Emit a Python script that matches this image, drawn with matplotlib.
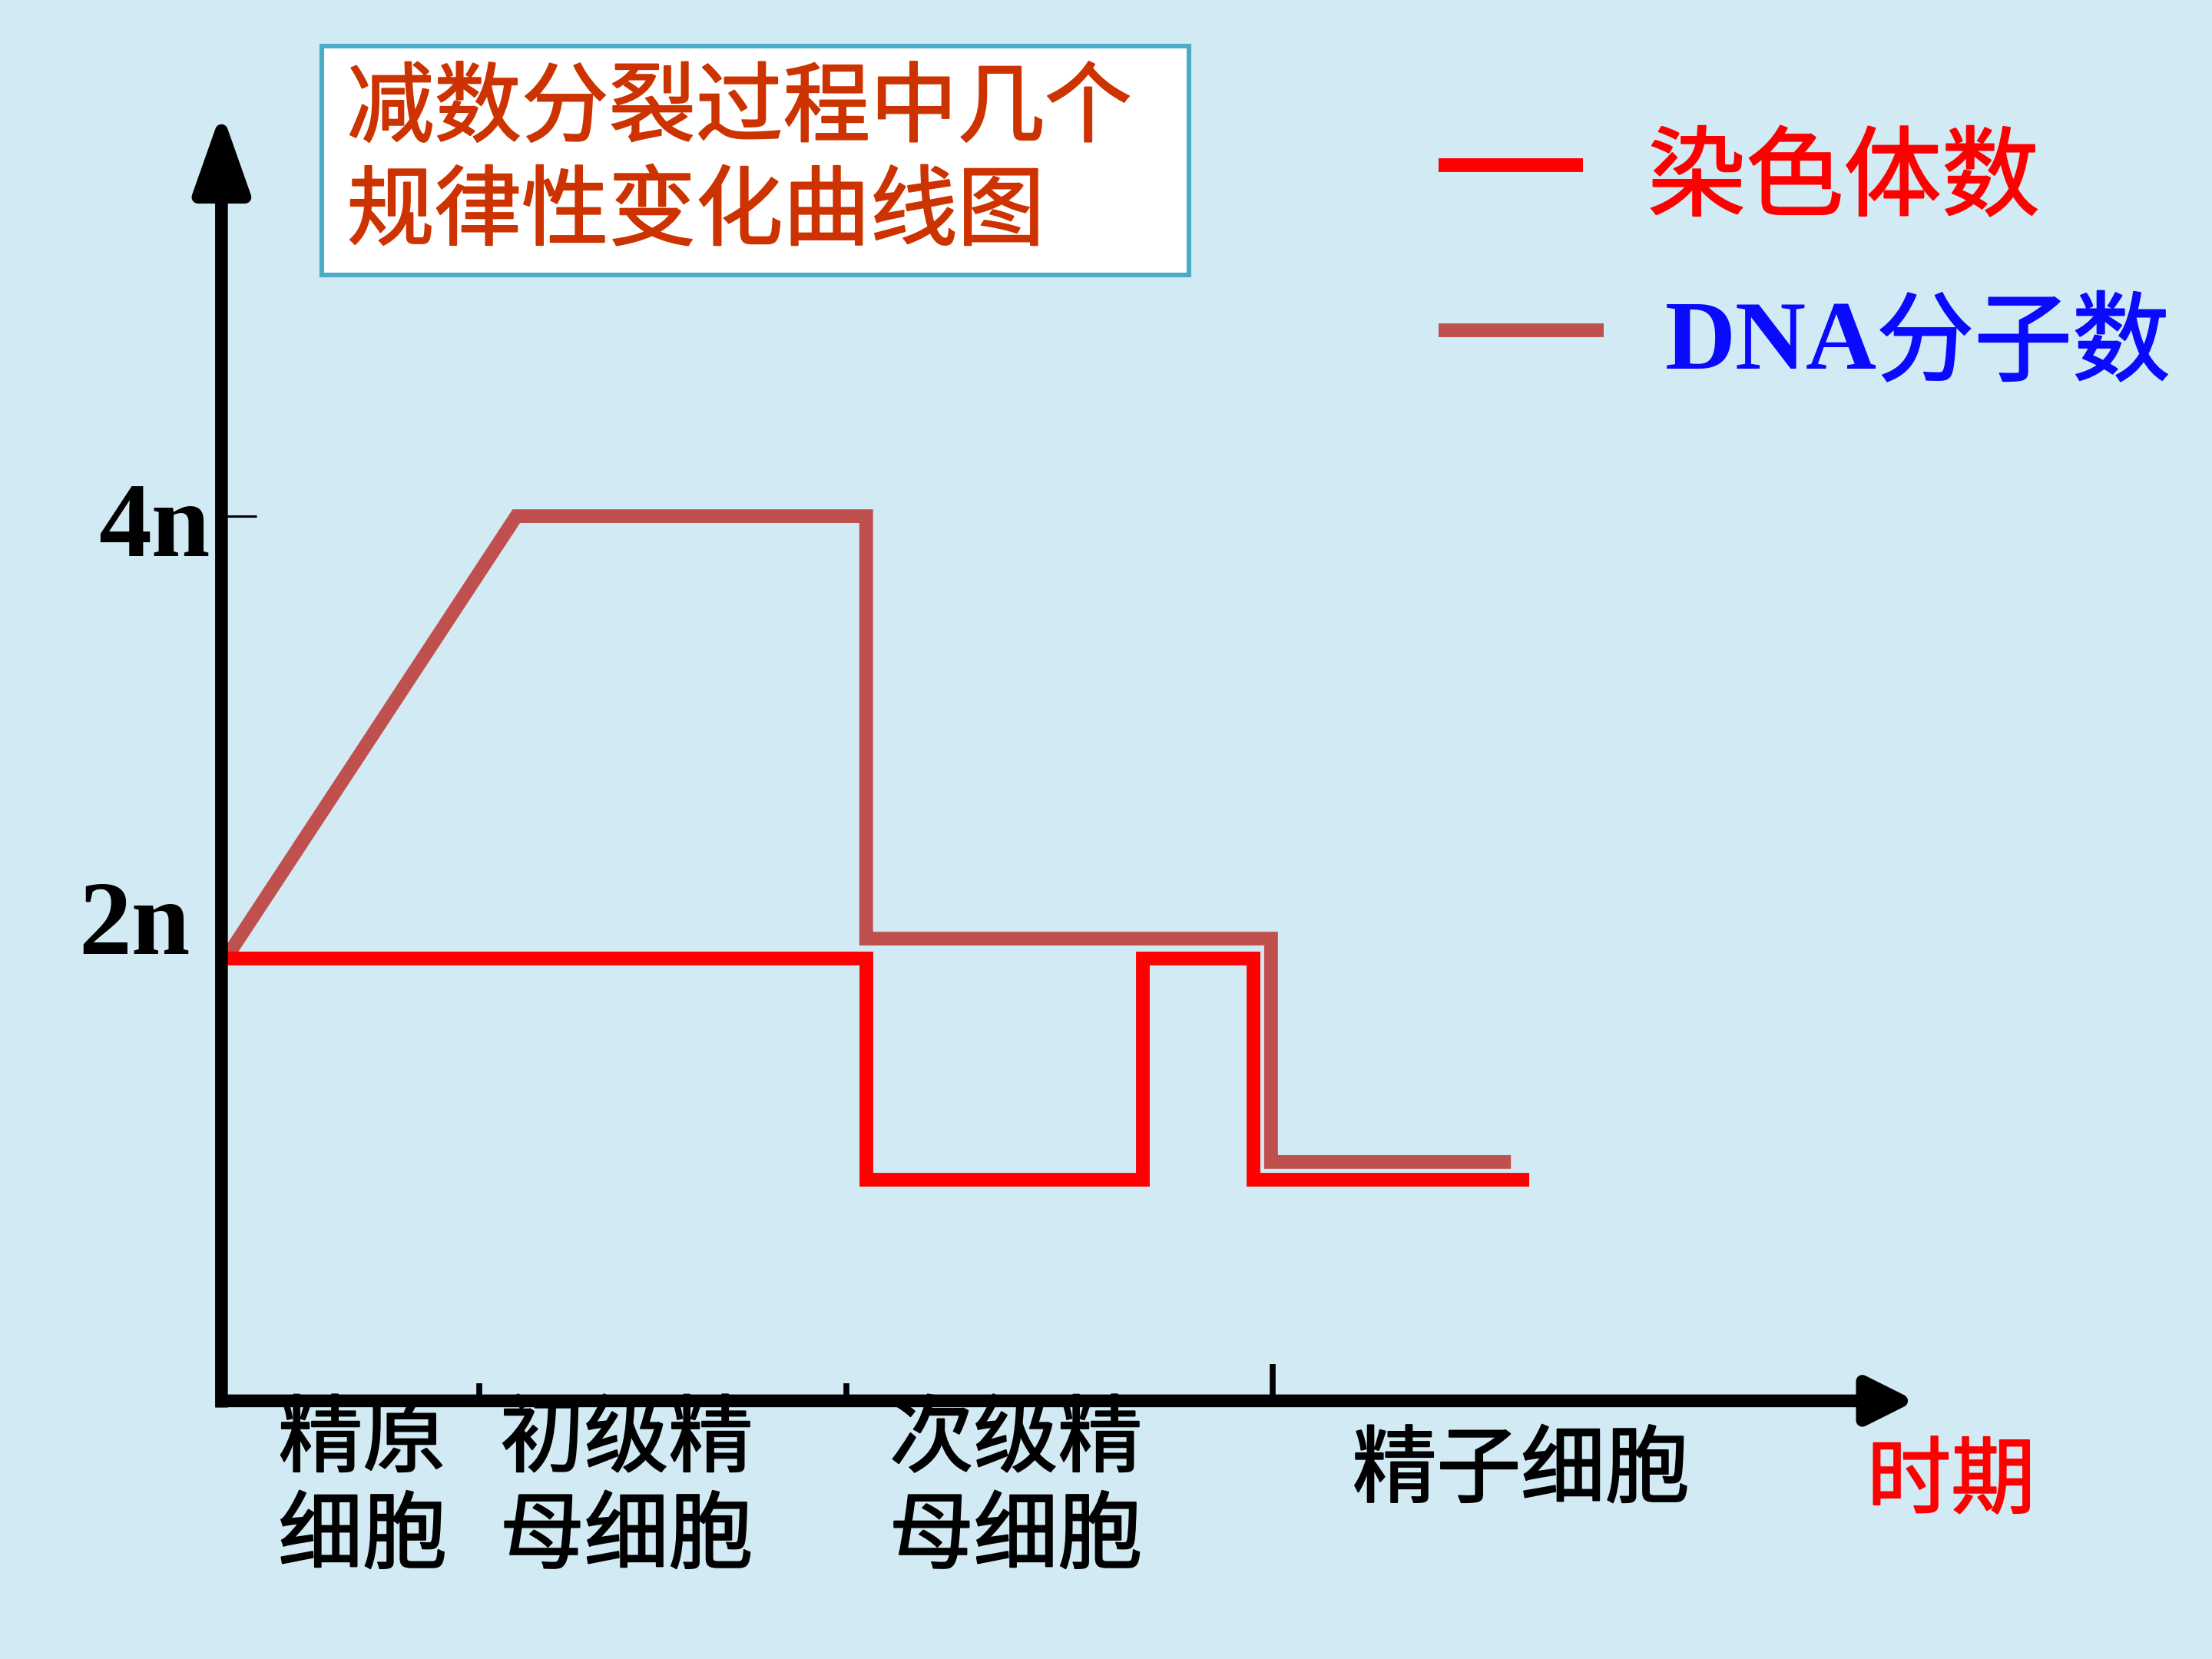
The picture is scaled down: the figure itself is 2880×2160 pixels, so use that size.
import matplotlib

matplotlib.use("Agg")

import matplotlib.patheffects as pe
import matplotlib.pyplot as plt
from matplotlib.lines import Line2D
from matplotlib.patches import Rectangle

plt.rcParams["font.family"] = ["Noto Sans CJK SC", "DejaVu Sans"]

# chromosome number (red) and DNA content (brown), in units of n
chrom_x = [0.0, 4.57, 4.57, 6.53, 6.53, 7.315, 7.315, 9.27]
chrom_n = [2.0, 2.0, 1.0, 1.0, 2.0, 2.0, 1.0, 1.0]
dna_x = [0.03, 2.09, 4.57, 4.57, 7.44, 7.44, 9.14]
dna_n = [2.0, 4.0, 4.0, 2.09, 2.09, 1.08, 1.08]

stage_ticks = [1.83, 4.43]
stage_tick_long = [7.45]
stage_labels = ["精原\n细胞", "初级精\n母细胞", "次级精\n母细胞", "精子细胞"]
stage_label_x = [1.0, 2.87, 5.63, 9.21]
stage_label_y = [-0.40, -0.40, -0.40, -0.32]

title_lines = "减数分裂过程中几个\n规律性变化曲线图"
legend_names = ["染色体数", "DNA分子数"]

RED = "#ff0000"
BROWN = "#c0504d"
BLUE = "#0a0aff"
BG = "#d1eaf3"


def heavy(color):
    # Noto Regular is a touch lighter than the slide's font: thicken the strokes a bit
    return [pe.withStroke(linewidth=0.8, foreground=color)]


fig = plt.figure(figsize=(15.68, 11.76), dpi=2880 / 15.68)
fig.patch.set_facecolor(BG)
ax = fig.add_axes([0.10013, 0.15561, 0.76531, 0.77721])
ax.set_facecolor("none")
ax.set_xlim(0, 12)
ax.set_ylim(0, 5.83)
for side in ax.spines.values():
    side.set_visible(False)

# axes with arrowheads
ax.annotate("", xy=(0, 5.83), xytext=(0, -0.03), annotation_clip=False,
            arrowprops=dict(arrowstyle="-|>,head_length=3.4,head_width=1.2",
                            mutation_scale=10, lw=6.5, color="black",
                            shrinkA=0, shrinkB=0, capstyle="butt"), zorder=6)
ax.annotate("", xy=(12.01, 0), xytext=(-0.03, 0), annotation_clip=False,
            arrowprops=dict(arrowstyle="-|>,head_length=2.0,head_width=1.0",
                            mutation_scale=10, lw=6.5, color="black",
                            shrinkA=0, shrinkB=0, capstyle="butt"), zorder=6)

ax.set_yticks([4])
ax.set_yticklabels([""])
ax.tick_params(axis="y", direction="in", length=18, width=1.2, color="black")
ax.set_xticks(stage_ticks)
ax.set_xticklabels([""] * len(stage_ticks))
ax.set_xticks(stage_tick_long, minor=True)
ax.tick_params(axis="x", which="major", direction="in", length=9, width=3, color="black")
ax.tick_params(axis="x", which="minor", direction="in", length=19, width=3, color="black")

ax.plot(dna_x, dna_n, color=BROWN, lw=7, solid_joinstyle="miter", solid_capstyle="butt",
        zorder=3, clip_on=False)
ax.plot(chrom_x, chrom_n, color=RED, lw=7, solid_joinstyle="miter", solid_capstyle="butt",
        zorder=4, clip_on=False)

serif = ["Liberation Serif", "DejaVu Serif"]
ax.text(-0.08, 3.82, "4n", ha="right", va="baseline", fontsize=54, fontweight="bold",
        family=serif, clip_on=False)
ax.text(-0.22, 2.02, "2n", ha="right", va="baseline", fontsize=54, fontweight="bold",
        family=serif, clip_on=False)

for label, lx, ly in zip(stage_labels, stage_label_x, stage_label_y):
    ax.text(lx, ly, label, ha="center", va="center", fontsize=43, linespacing=1.15,
            color="black", clip_on=False, zorder=2, path_effects=heavy("black"))
ax.text(12.26, -0.37, "时期", ha="center", va="center", fontsize=43, color=RED,
        clip_on=False, path_effects=heavy(RED))

# title box
fig.add_artist(Rectangle((0.1454, 0.8342), 0.3922, 0.1378, transform=fig.transFigure,
                         facecolor="white", edgecolor="#4bacc6", lw=2.4, zorder=1))
fig.text(0.1569, 0.9025, title_lines, ha="left", va="center", fontsize=44.5,
         color="#cc3300", linespacing=1.2, zorder=2, path_effects=heavy("#cc3300"))

# legend
fig.add_artist(Line2D([0.6505, 0.7156], [0.9005, 0.9005], color=RED, lw=7,
                      solid_capstyle="butt", transform=fig.transFigure))
fig.add_artist(Line2D([0.6505, 0.7251], [0.8010, 0.8010], color=BROWN, lw=7,
                      solid_capstyle="butt", transform=fig.transFigure))
fig.text(0.7449, 0.8912, legend_names[0], ha="left", va="center", fontsize=50, color=RED,
         path_effects=heavy(RED))
fig.text(0.7526, 0.7917, legend_names[1][:3], ha="left", va="center",
         fontsize=50, fontweight="bold", color=BLUE, family=serif)
fig.text(0.8482, 0.7917, legend_names[1][3:], ha="left", va="center", fontsize=50,
         color=BLUE, path_effects=heavy(BLUE))

fig.savefig("out.png", dpi=2880 / 15.68, facecolor=BG)
